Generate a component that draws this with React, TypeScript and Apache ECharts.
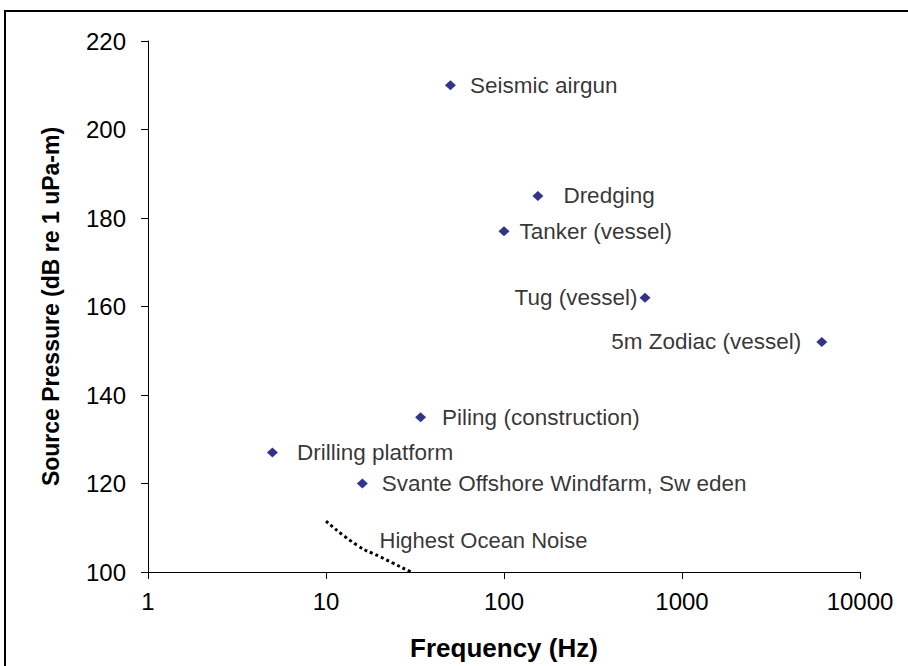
import React, { useEffect, useRef } from "react";
import * as echarts from "echarts";

const sourceNames = [
  "Seismic airgun",
  "Dredging",
  "Tanker (vessel)",
  "Tug (vessel)",
  "5m Zodiac (vessel)",
  "Piling (construction)",
  "Drilling platform",
  "Svante Offshore Windfarm, Sw eden",
];
const frequencies = [50, 155, 100, 620, 6100, 34, 5, 16];
const pressures = [210, 185, 177, 162, 152, 135, 127, 120];

const noiseFreq = [10, 15, 20, 30];
const noiseLevel = [111.5, 106, 103.5, 100];
const noiseLabel = "Highest Ocean Noise";
const noiseLabelAnchor = [20, 107.2];

const xTicks = [1, 10, 100, 1000, 10000];
const yMin = 100;
const yMax = 220;
const yStep = 20;

// label placement per point (style, not data)
const labelStyle: Record<string, { position: string; distance: number; offset: number[] }> = {
  "Seismic airgun": { position: "right", distance: 14, offset: [0, -2] },
  Dredging: { position: "right", distance: 20, offset: [0, -1] },
  "Tanker (vessel)": { position: "right", distance: 10, offset: [0, 0] },
  "Tug (vessel)": { position: "left", distance: 2, offset: [0, -1] },
  "5m Zodiac (vessel)": { position: "left", distance: 15, offset: [0, 0] },
  "Piling (construction)": { position: "right", distance: 16, offset: [0, -4] },
  "Drilling platform": { position: "right", distance: 19, offset: [0, -10] },
  "Svante Offshore Windfarm, Sw eden": { position: "right", distance: 14, offset: [0, 4] },
};

const FONT = "'Liberation Sans', Arial, sans-serif";

export default function App() {
  const ref = useRef<HTMLDivElement>(null);
  useEffect(() => {
    document.body.style.margin = "0";
    if (!ref.current) return;
    const chart = echarts.init(ref.current, null, { renderer: "svg" });
    const points = sourceNames.map((n, i) => {
      const s = labelStyle[n];
      return {
        name: n,
        value: [frequencies[i], pressures[i]],
        label: {
          show: true,
          formatter: n,
          position: s.position,
          distance: s.distance,
          offset: s.offset,
          color: "#000",
          fontSize: 22.5,
          fontFamily: FONT,
        },
      };
    });
    chart.setOption({
      animation: false,
      backgroundColor: "#fff",
      graphic: [
        {
          type: "rect",
          shape: { x: 5, y: 11, width: 1000, height: 1000 },
          style: { fill: "none", stroke: "#000", lineWidth: 2 },
          silent: true,
        },
      ],
      grid: { left: 148, right: 48, top: 41, bottom: 84, containLabel: false },
      xAxis: {
        type: "log",
        logBase: 10,
        min: xTicks[0],
        max: xTicks[xTicks.length - 1],
        name: "Frequency (Hz)",
        nameLocation: "middle",
        nameGap: 63,
        nameTextStyle: { fontSize: 26, fontWeight: "bold", color: "#000", fontFamily: FONT },
        axisLine: { lineStyle: { color: "#000", width: 1 } },
        axisTick: { show: true, length: 7, lineStyle: { color: "#000" } },
        splitLine: { show: false },
        minorTick: { show: false },
        axisLabel: {
          fontSize: 24,
          color: "#000",
          margin: 17,
          fontFamily: FONT,
          formatter: (v: number) => String(Math.round(v)),
        },
      },
      yAxis: {
        type: "value",
        min: yMin,
        max: yMax,
        interval: yStep,
        name: "Source Pressure (dB re 1 uPa-m)",
        nameLocation: "middle",
        nameGap: 86,
        nameRotate: 90,
        nameTextStyle: { fontSize: 23, fontWeight: "bold", color: "#000", fontFamily: FONT },
        axisLine: { show: true, lineStyle: { color: "#000", width: 1 } },
        axisTick: { show: true, length: 7, lineStyle: { color: "#000" } },
        splitLine: { show: false },
        axisLabel: { fontSize: 24, color: "#000", margin: 22, fontFamily: FONT },
      },
      series: [
        {
          type: "line",
          data: noiseFreq.map((f, i) => [f, noiseLevel[i]]),
          smooth: true,
          showSymbol: false,
          symbol: "none",
          lineStyle: { color: "#000", width: 3, type: [3, 3] },
          silent: true,
          z: 2,
        },
        {
          type: "scatter",
          data: [
            {
              value: noiseLabelAnchor,
              label: {
                show: true,
                formatter: noiseLabel,
                position: "right",
                distance: 0,
                color: "#000",
                fontSize: 22,
                fontFamily: FONT,
              },
            },
          ],
          symbolSize: 0,
          silent: true,
        },
        {
          type: "scatter",
          data: points,
          symbol: "diamond",
          symbolSize: [11, 10],
          itemStyle: { color: "#00006e" },
          labelLayout: { hideOverlap: false },
          z: 3,
        },
      ],
    });
    return () => chart.dispose();
  }, []);
  return <div ref={ref} style={{ width: 908, height: 666 }} />;
}
